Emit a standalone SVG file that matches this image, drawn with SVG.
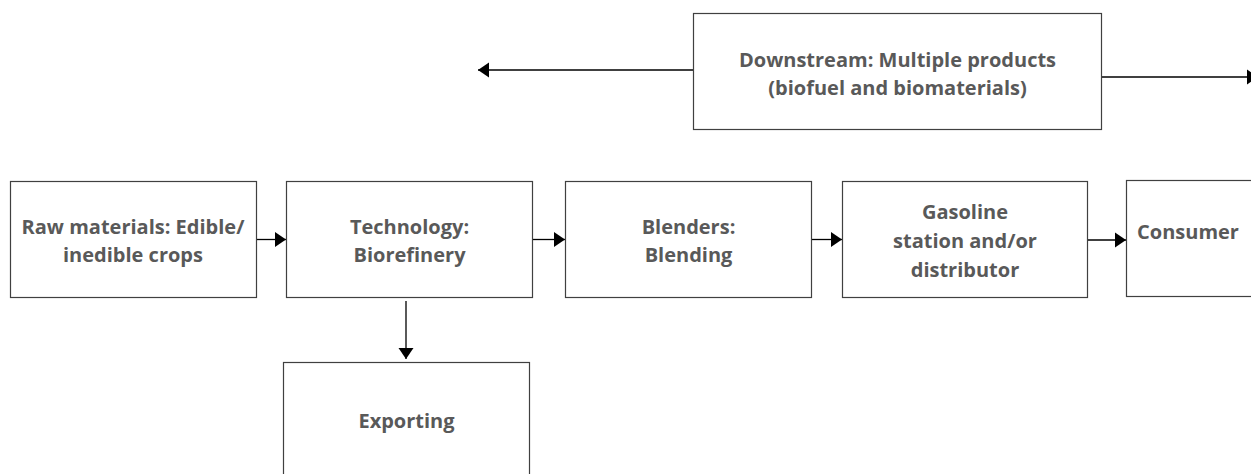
<svg xmlns="http://www.w3.org/2000/svg" width="1251" height="474" viewBox="0 0 1251 474">
<defs>
<marker id="ah" markerUnits="userSpaceOnUse" markerWidth="12" markerHeight="16" refX="11" refY="8" orient="auto">
<path d="M0,0.5 L11,8 L0,15.5 z" fill="#000"/>
</marker>
<style>
.box{fill:#fff;stroke:#404040;stroke-width:1.2}
.lbl{font-family:"Open Sans","Noto Sans","Liberation Sans",sans-serif;font-weight:bold;font-size:20px;fill:#595959;text-anchor:middle}
.con{stroke:#000;stroke-width:1.3;fill:none;marker-end:url(#ah)}
</style>
</defs>
<rect width="1251" height="474" fill="#fff"/>
<g id="connectors">
<line class="con" x1="693" y1="70" x2="478" y2="70"/>
<line class="con" x1="1102" y1="77" x2="1258" y2="77"/>
<line class="con" x1="256" y1="239.5" x2="286" y2="239.5"/>
<line class="con" x1="533" y1="239.5" x2="565" y2="239.5"/>
<line class="con" x1="811" y1="239.5" x2="842" y2="239.5"/>
<line class="con" x1="1088" y1="240" x2="1126" y2="240"/>
<line class="con" x1="406" y1="301" x2="406" y2="359"/>
</g>
<g id="downstream">
<rect class="box" x="693.5" y="13.5" width="408" height="116"/>
<text class="lbl" x="897.5" y="67">Downstream: Multiple products</text>
<text class="lbl" x="897.5" y="95">(biofuel and biomaterials)</text>
</g>
<g id="raw">
<rect class="box" x="10.5" y="181.5" width="246" height="116"/>
<text class="lbl" x="133" y="234">Raw materials: Edible/</text>
<text class="lbl" x="133" y="262">inedible crops</text>
</g>
<g id="technology">
<rect class="box" x="286.5" y="181.5" width="246" height="116"/>
<text class="lbl" x="409.5" y="234">Technology:</text>
<text class="lbl" x="409.5" y="262">Biorefinery</text>
</g>
<g id="blenders">
<rect class="box" x="565.5" y="181.5" width="246" height="116"/>
<text class="lbl" x="688.5" y="234">Blenders:</text>
<text class="lbl" x="688.5" y="262">Blending</text>
</g>
<g id="gasoline">
<rect class="box" x="842.5" y="181.5" width="245" height="116"/>
<text class="lbl" x="965" y="219">Gasoline</text>
<text class="lbl" x="965" y="248">station and/or</text>
<text class="lbl" x="965" y="277">distributor</text>
</g>
<g id="consumer">
<rect class="box" x="1126.5" y="180.5" width="140" height="116"/>
<text class="lbl" x="1188" y="239">Consumer</text>
</g>
<g id="exporting">
<rect class="box" x="283.5" y="362.5" width="246" height="130"/>
<text class="lbl" x="406.5" y="428">Exporting</text>
</g>
</svg>
